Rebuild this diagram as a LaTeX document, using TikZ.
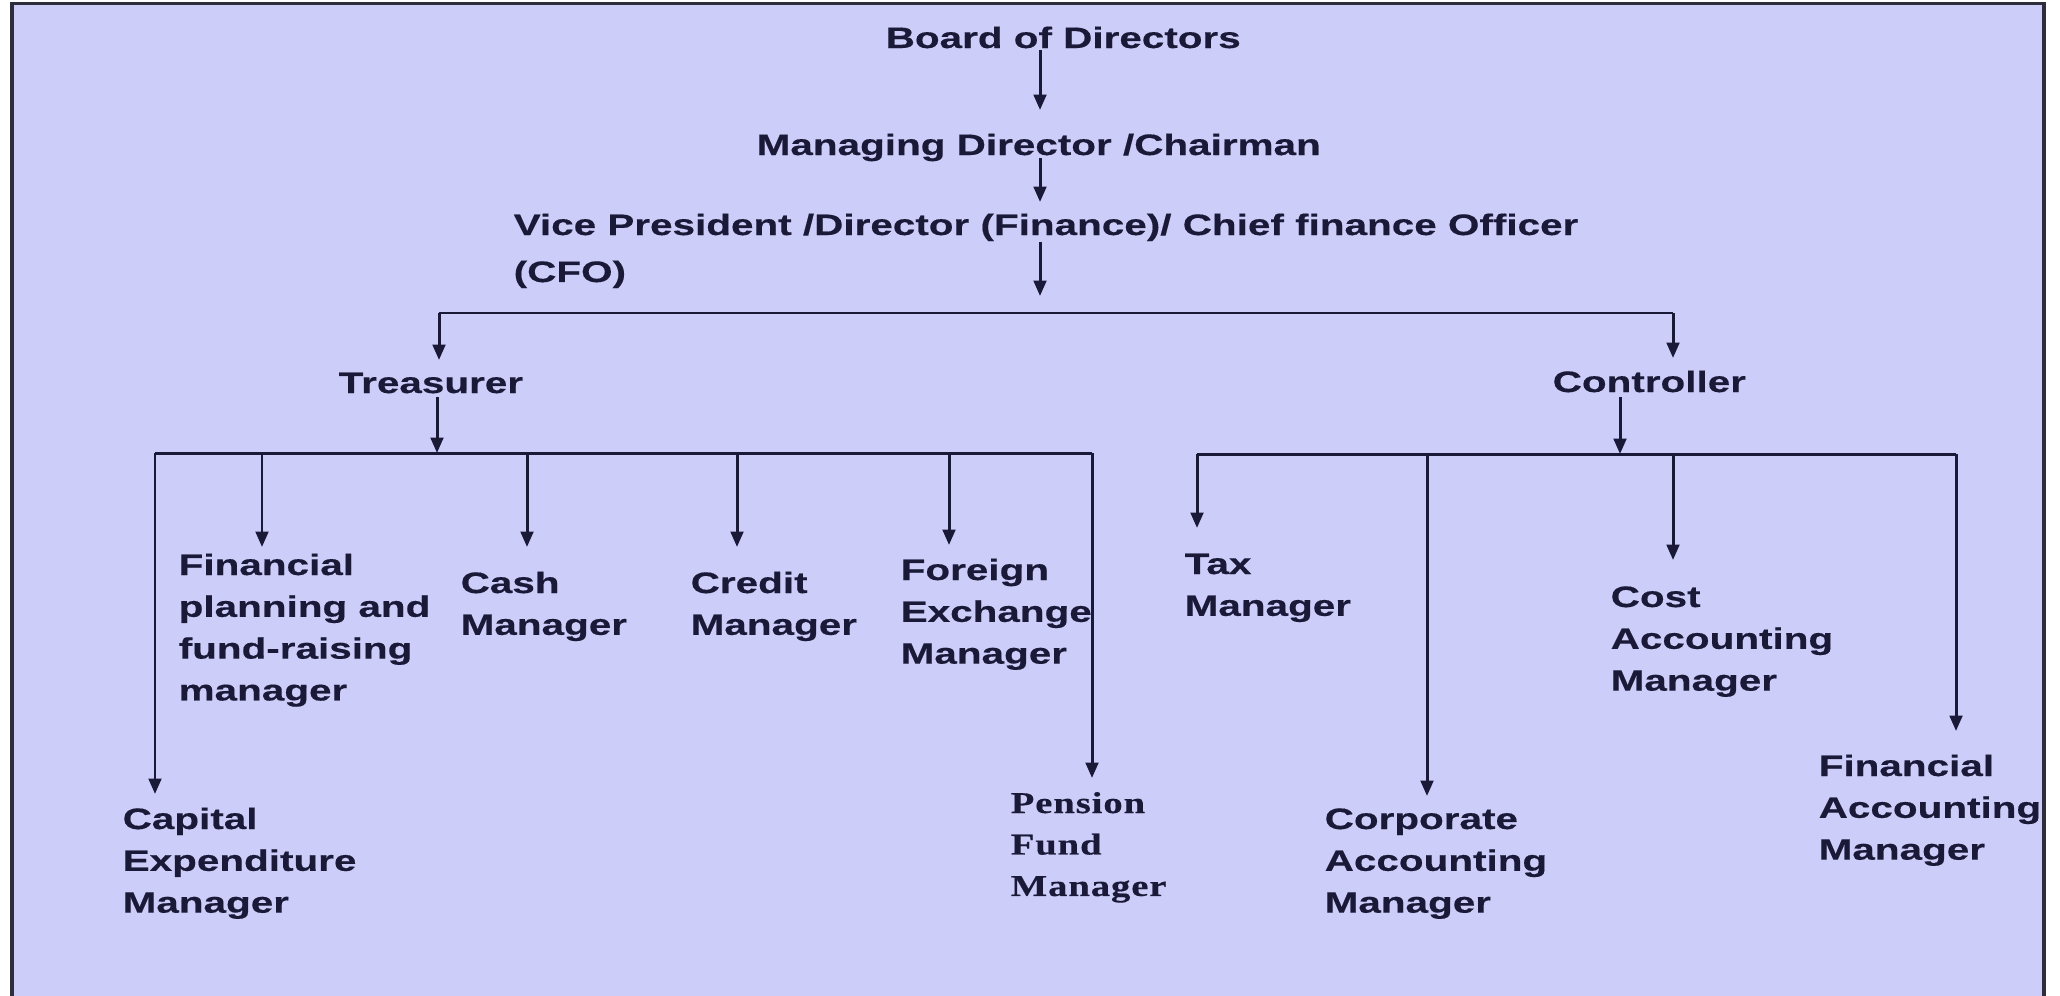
\documentclass[tikz,border=0pt]{standalone}
\usepackage{fontspec}
\usetikzlibrary{arrows.meta}
\newfontfamily\orgsans{Liberation Sans}[FakeStretch=1.37, FakeBold=0.4]
\newfontfamily\orgserif{Liberation Serif}[FakeStretch=1.28, LetterSpace=3, FakeBold=0.4]
\definecolor{bgc}{RGB}{205,205,250}
\definecolor{ink}{RGB}{26,26,56}
\definecolor{framec}{RGB}{45,45,60}
\newcommand{\ml}[1]{\begin{tabular}[t]{@{}l@{}}#1\end{tabular}}
\begin{document}
\begin{tikzpicture}[x=0.1mm,y=-0.1mm,
  lbl/.style={anchor=base west, inner sep=0pt, text=ink,
    font=\orgsans\bfseries\fontsize{8.4pt}{11.9pt}\selectfont},
  vplbl/.style={lbl, font=\orgsans\bfseries\fontsize{8.4pt}{13.37pt}\selectfont},
  serlbl/.style={anchor=base west, inner sep=0pt, text=ink,
    font=\orgserif\bfseries\fontsize{8.6pt}{11.8pt}\selectfont},
  arr/.style={draw=ink, line width=0.85pt, -{Triangle[length=4.4pt,width=3.6pt]}},
  ln/.style={draw=ink, line width=0.85pt}]
\fill[white] (0,0) rectangle (2060,995);
\useasboundingbox (0,0) rectangle (2060,995);
\draw[fill=bgc, draw=framec, line width=1.1pt] (12,3.5) rectangle (2044,1030);

% nodes
\node[lbl] (bod) at (885,48) {Board of Directors};
\node[lbl] (md) at (756,155) {Managing Director /Chairman};
\node[vplbl] (vp) at (513,235) {\ml{Vice President /Director (Finance)/ Chief finance Officer\\(CFO)}};
\node[lbl] (tre) at (338,393) {Treasurer};
\node[lbl] (ctl) at (1552,392) {Controller};
\node[lbl] (fpm) at (178,575) {\ml{Financial\\planning and\\fund-raising\\manager}};
\node[lbl] (cash) at (460,593) {\ml{Cash\\Manager}};
\node[lbl] (cred) at (690,593) {\ml{Credit\\Manager}};
\node[lbl] (fx) at (900,580) {\ml{Foreign\\Exchange\\Manager}};
\node[lbl] (capx) at (122,829) {\ml{Capital\\Expenditure\\Manager}};
\node[serlbl] (pen) at (1010,813) {\ml{Pension\\Fund\\Manager}};
\node[lbl] (tax) at (1184,574) {\ml{Tax\\Manager}};
\node[lbl] (corp) at (1324,829) {\ml{Corporate\\Accounting\\Manager}};
\node[lbl] (cost) at (1610,607) {\ml{Cost\\Accounting\\Manager}};
\node[lbl] (fin) at (1818,776) {\ml{Financial\\Accounting\\Manager}};

% connector points
\coordinate (bodS) at (1040,50);  \coordinate (mdN) at (1040,110);
\coordinate (mdS) at (1040,158);  \coordinate (vpN) at (1040,202);
\coordinate (vpS) at (1040,242);  \coordinate (vpT) at (1040,296);
\coordinate (jTL) at (439,313);   \coordinate (jTR) at (1673,313);
\coordinate (treN) at (439,360);  \coordinate (ctlN) at (1673,358);
\coordinate (treS) at (437,397);  \coordinate (treJ) at (437,453);
\coordinate (ctlS) at (1620,397); \coordinate (ctlJ) at (1620,454);
\coordinate (tL) at (155,453);    \coordinate (tR) at (1092,453);
\coordinate (cL) at (1197,454);   \coordinate (cR) at (1956,454);
\coordinate (fpJ) at (262,453);   \coordinate (fpN) at (262,547);
\coordinate (cashJ) at (527,453); \coordinate (cashN) at (527,547);
\coordinate (credJ) at (737,453); \coordinate (credN) at (737,547);
\coordinate (fxJ) at (949,453);   \coordinate (fxN) at (949,545);
\coordinate (capN) at (155,794);  \coordinate (penN) at (1092,778);
\coordinate (taxN) at (1197,528); \coordinate (corpJ) at (1427,454);
\coordinate (corpN) at (1427,796); \coordinate (costJ) at (1673,454);
\coordinate (costN) at (1673,560); \coordinate (finN) at (1956,731);

% connectors
\draw[arr] (bodS) -- (mdN);
\draw[arr] (mdS) -- (vpN);
\draw[arr] (vpS) -- (vpT);
\draw[ln] (jTL) -- (jTR);
\draw[arr] (jTL) -- (treN);
\draw[arr] (jTR) -- (ctlN);
\draw[arr] (treS) -- (treJ);
\draw[arr] (ctlS) -- (ctlJ);
\draw[ln] (tL) -- (tR);
\draw[ln] (cL) -- (cR);
\draw[arr] (tL) -- (capN);
\draw[arr] (fpJ) -- (fpN);
\draw[arr] (cashJ) -- (cashN);
\draw[arr] (credJ) -- (credN);
\draw[arr] (fxJ) -- (fxN);
\draw[arr] (tR) -- (penN);
\draw[arr] (cL) -- (taxN);
\draw[arr] (corpJ) -- (corpN);
\draw[arr] (costJ) -- (costN);
\draw[arr] (cR) -- (finN);
\end{tikzpicture}
\end{document}
